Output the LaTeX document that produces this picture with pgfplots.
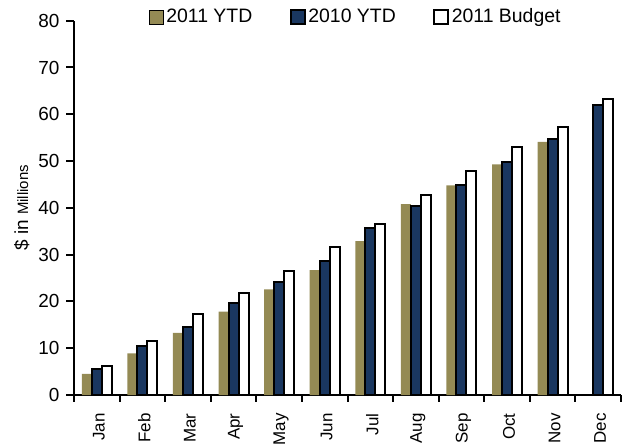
\documentclass[border=0pt]{standalone}
\usepackage{pgfplots}
\pgfplotsset{compat=1.18}
\usepackage{fontspec}
\setmainfont{Liberation Sans}
\definecolor{tan}{HTML}{948A54}
\definecolor{navy}{HTML}{1A3760}
\begin{document}
\begin{tikzpicture}
\begin{axis}[
  name=ax, at={(0,0)}, anchor=south west,
  scale only axis, width=547bp, height=374.3bp,
  xmin=-0.5, xmax=11.5, ymin=0, ymax=80,
  axis x line*=bottom, axis y line*=left,
  axis line style={line width=2.2bp},
  every tick/.style={line width=2bp, black},
  ytick={0,10,...,80},
  xtick={0,...,11},
  xticklabels={Jan,Feb,Mar,Apr,May,Jun,Jul,Aug,Sep,Oct,Nov,Dec},
  major x tick style={draw=none},
  minor xtick={-0.5,0.5,...,11.5},
  tick align=outside,
  major tick length=8bp, minor tick length=7bp,
  xticklabel style={rotate=90, anchor=east, font=\fontsize{17}{17}\selectfont, xshift=-7bp, yshift=-2bp},
  yticklabel style={font=\fontsize{19}{19}\selectfont, xshift=-3bp},
  /pgf/number format/assume math mode=true,
  ylabel={\fontsize{19}{19}\selectfont\$ in \fontsize{15}{15}\selectfont Millions},
  ylabel style={at={(axis description cs:0,0.5)}, anchor=south, yshift=41bp},
  ybar, bar width=10bp,
  legend columns=3,
  legend style={draw=none, fill=none, at={(0.516,1)}, anchor=center, yshift=4bp,
    font=\fontsize{19.5}{19.5}\selectfont, inner sep=0pt,
    /tikz/every even column/.append style={column sep=35bp},
    nodes={inner sep=2.5bp}},
  legend image code/.code={\draw[#1] (0bp,-7bp) rectangle (14bp,7bp);},
]
\addplot[fill=tan, draw=none, bar shift=-10bp] coordinates {
(0,4.5) (1,8.9) (2,13.3) (3,17.8) (4,22.6) (5,26.7) (6,32.9) (7,40.8) (8,44.8) (9,49.3) (10,54.1)};
\addplot[fill=navy, draw=black, line width=2bp, bar shift=0bp] coordinates {
(0,5.5) (1,10.5) (2,14.6) (3,19.7) (4,24.2) (5,28.7) (6,35.6) (7,40.3) (8,44.9) (9,49.9) (10,54.7) (11,61.9)};
\addplot[fill=white, draw=black, line width=2bp, bar shift=10bp] coordinates {
(0,6.1) (1,11.5) (2,17.3) (3,21.8) (4,26.5) (5,31.7) (6,36.5) (7,42.7) (8,47.8) (9,53.0) (10,57.3) (11,63.2)};
\legend{2011 YTD,2010 YTD,2011 Budget}
\end{axis}
\pgfresetboundingbox
\path[use as bounding box] (-74bp,-49bp) rectangle (548bp,395bp);
\end{tikzpicture}
\end{document}
